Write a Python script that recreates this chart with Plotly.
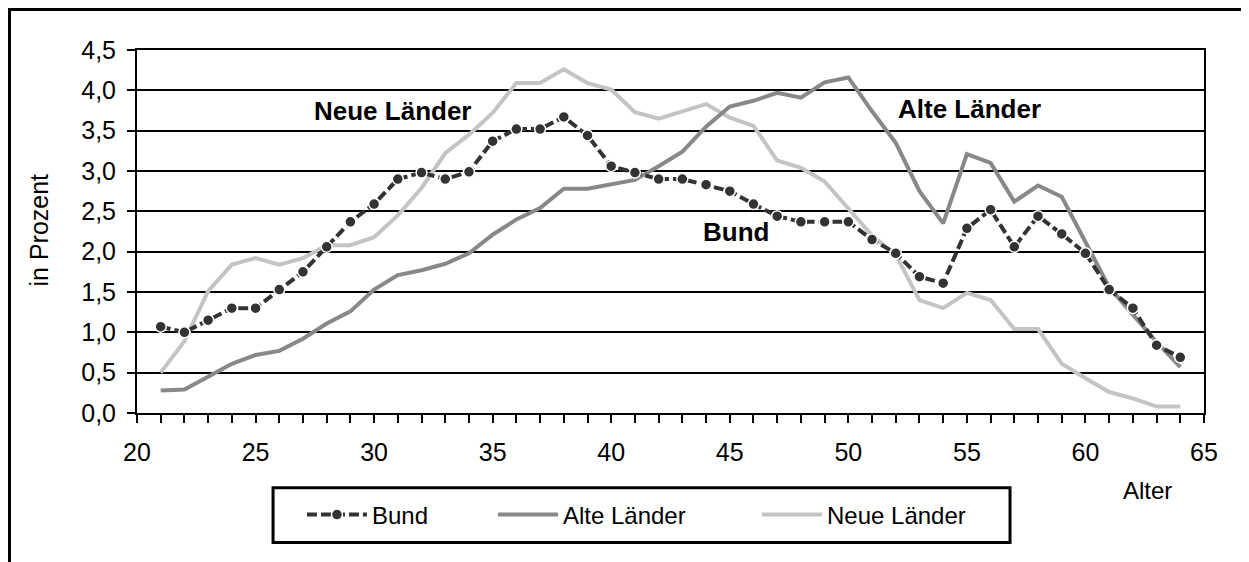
import plotly.graph_objects as go

ages = list(range(21, 65))

bund = [1.07, 1.00, 1.15, 1.30, 1.30, 1.53, 1.75, 2.06, 2.37, 2.59,
        2.90, 2.98, 2.90, 2.99, 3.37, 3.52, 3.52, 3.67, 3.44, 3.06,
        2.98, 2.90, 2.90, 2.83, 2.75, 2.59, 2.44, 2.37, 2.37, 2.37,
        2.15, 1.98, 1.69, 1.61, 2.29, 2.52, 2.06, 2.44, 2.22, 1.98,
        1.53, 1.30, 0.84, 0.69]

alte_laender = [0.28, 0.29, 0.45, 0.61, 0.72, 0.77, 0.92, 1.11, 1.26, 1.53,
                1.71, 1.77, 1.85, 1.98, 2.21, 2.40, 2.54, 2.78, 2.78, 2.84,
                2.89, 3.06, 3.24, 3.55, 3.80, 3.87, 3.97, 3.91, 4.10, 4.16,
                3.74, 3.35, 2.75, 2.35, 3.21, 3.10, 2.62, 2.82, 2.68, 2.12,
                1.56, 1.22, 0.88, 0.57]

neue_laender = [0.50, 0.89, 1.51, 1.84, 1.92, 1.84, 1.92, 2.08, 2.08, 2.18,
                2.45, 2.79, 3.22, 3.45, 3.72, 4.09, 4.09, 4.26, 4.09, 4.01,
                3.73, 3.65, 3.74, 3.83, 3.66, 3.56, 3.13, 3.04, 2.87, 2.53,
                2.20, 1.96, 1.40, 1.30, 1.49, 1.40, 1.04, 1.04, 0.61, 0.43,
                0.26, 0.18, 0.08, 0.08]

FONT = "Liberation Sans, Arial, sans-serif"

fig = go.Figure()

# light grey first so the Bund markers sit on top
fig.add_trace(go.Scatter(
    x=ages, y=neue_laender, mode='lines', name='Neue Länder',
    line=dict(color='#c4c4c4', width=4), legend='legend3'
))
fig.add_trace(go.Scatter(
    x=ages, y=alte_laender, mode='lines', name='Alte Länder',
    line=dict(color='#888888', width=4), legend='legend2'
))
fig.add_trace(go.Scatter(
    x=ages, y=bund, mode='lines+markers', name='Bund',
    line=dict(color='#333333', width=4, dash='10px,4px'),
    marker=dict(size=11, color='#333333', line=dict(color='white', width=1.5)),
    legend='legend'
))

# labels inside the plot
labels = [("Neue Länder", 30.78, 3.75), ("Alte Länder", 55.13, 3.77), ("Bund", 45.26, 2.24)]
for txt, ax, ay in labels:
    fig.add_annotation(x=ax, y=ay, text="<b>%s</b>" % txt, showarrow=False,
                       xanchor='center', yanchor='middle',
                       font=dict(family=FONT, size=26, color='black'))

fig.add_annotation(xref='paper', yref='paper', x=-0.092, y=0.505, text="in Prozent",
                   textangle=-90, showarrow=False, xanchor='center', yanchor='middle',
                   font=dict(family=FONT, size=25, color='black'))
fig.add_annotation(xref='paper', yref='paper', x=0.947, y=-0.214, text="Alter",
                   showarrow=False, xanchor='center', yanchor='middle',
                   font=dict(family=FONT, size=24, color='black'))

# outer frame (cut off by the picture edge on the right and bottom) and legend box
fig.add_shape(type='rect', xref='paper', yref='paper',
              x0=-0.1195, x1=1.2, y0=-0.6, y1=1.1115,
              line=dict(color='black', width=3))
fig.add_shape(type='rect', xref='paper', yref='paper',
              x0=0.1275, x1=0.8182, y0=-0.357, y1=-0.2056,
              line=dict(color='black', width=3))

leg = dict(orientation='h', xanchor='left', yanchor='middle', y=-0.281,
           bgcolor='rgba(0,0,0,0)', borderwidth=0, itemwidth=60,
           font=dict(family=FONT, size=24, color='black'))

fig.update_layout(
    width=1241, height=554,
    margin=dict(l=129, r=45, t=42, b=149),
    plot_bgcolor='white', paper_bgcolor='white',
    separators=',.',
    font=dict(family=FONT, size=24, color='black'),
    showlegend=True,
    legend=dict(leg, x=0.1546),
    legend2=dict(leg, x=0.3336),
    legend3=dict(leg, x=0.5811),
    xaxis=dict(range=[20, 65], dtick=5, tick0=20, showgrid=False, zeroline=False,
               showline=True, linecolor='black', linewidth=2, mirror=True,
               ticks='outside', ticklen=8, tickwidth=2, tickcolor='black',
               minor=dict(dtick=1, ticks='outside', ticklen=8, tickwidth=2, tickcolor='black'),
               ticklabelstandoff=8,
               tickfont=dict(family=FONT, size=25, color='black')),
    yaxis=dict(range=[0, 4.5], dtick=0.5, tick0=0, tickformat='.1f',
               showgrid=True, gridcolor='black', gridwidth=2, zeroline=False,
               showline=True, linecolor='black', linewidth=2, mirror=True,
               ticks='outside', ticklen=8, tickwidth=2, tickcolor='black',
               ticklabelstandoff=6,
               tickfont=dict(family=FONT, size=25, color='black')),
)

fig.write_html("out.html")
